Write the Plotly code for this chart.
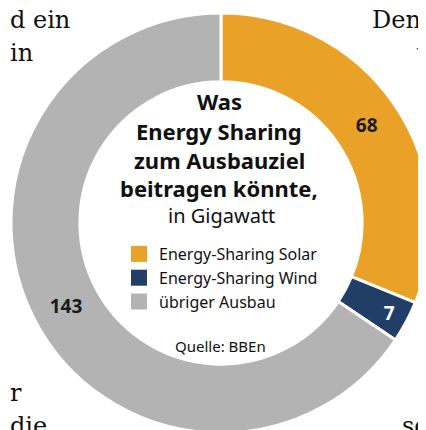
import plotly.graph_objects as go

# data
labels = ["Energy-Sharing Solar", "Energy-Sharing Wind", "übriger Ausbau"]
values = [68, 7, 143]
colors = ["#E9A227", "#213F66", "#B3B3B3"]
label_colors = ["#1a1a1a", "#ffffff", "#1a1a1a"]

title_lines = ["Was", "Energy Sharing", "zum Ausbauziel", "beitragen könnte,"]
subtitle = "in Gigawatt"
source = "Quelle: BBEn"

# fragments of the surrounding article text
bg_text = ["d ein", "in", "Den", "v", "r", "die", "sc"]
bg_pos = [(0, 12), (0, 45), (362, 12), (406, 45), (0, 385), (0, 418), (392, 418)]

W, H = 426, 430
SANS = "Noto Sans"
# the page puts the figure 8px in from the top left corner,
# so the positions below are given in figure pixels

fig = go.Figure()

fig.add_trace(go.Pie(
    labels=labels,
    values=values,
    sort=False,
    direction="clockwise",
    rotation=0,
    hole=0.672,
    domain=dict(x=[0.007, 0.993], y=[0.0116, 0.9884]),
    marker=dict(colors=colors, line=dict(color="white", width=3)),
    textinfo="value",
    textposition="inside",
    insidetextorientation="horizontal",
    insidetextfont=dict(family=SANS, size=19, color=label_colors, weight="bold"),
    showlegend=False,
    hoverinfo="label+value",
))

# legend entries with bigger squares
for name, c in zip(labels, colors):
    fig.add_trace(go.Scatter(
        x=[None], y=[None], mode="markers", name=name,
        marker=dict(symbol="square", size=16, color=c),
    ))

# title block, one line at a time to keep the tight leading
title_y = [93, 123, 152, 180]
for t, py in zip(title_lines, title_y):
    fig.add_annotation(
        text=f"<b>{t}</b>", x=211 / W, y=1 - py / H, xref="paper", yref="paper",
        xanchor="center", yanchor="middle", showarrow=False,
        font=dict(family=SANS, size=22, color="#111111"),
    )
fig.add_annotation(
    text=subtitle, x=213 / W, y=1 - 207 / H, xref="paper", yref="paper",
    xanchor="center", yanchor="middle", showarrow=False,
    font=dict(family=SANS, size=20, color="#111111"),
)
fig.add_annotation(
    text=source, x=212 / W, y=1 - 338 / H, xref="paper", yref="paper",
    xanchor="center", yanchor="middle", showarrow=False,
    font=dict(family=SANS, size=15, color="#111111"),
)

for t, (px, py) in zip(bg_text, bg_pos):
    fig.add_annotation(
        text=t, x=px / W, y=1 - py / H, xref="paper", yref="paper",
        xanchor="left", yanchor="middle", showarrow=False,
        font=dict(family="DejaVu Serif", size=24, color="#111111"),
    )

fig.update_layout(
    width=W, height=H,
    margin=dict(l=0, r=0, t=0, b=0, autoexpand=False),
    paper_bgcolor="white",
    plot_bgcolor="rgba(0,0,0,0)",
    xaxis=dict(visible=False),
    yaxis=dict(visible=False),
    showlegend=True,
    legend=dict(
        x=111 / W, y=1 - 229 / H, xanchor="left", yanchor="top",
        bgcolor="rgba(0,0,0,0)",
        font=dict(family=SANS, size=16, color="#111111"),
        tracegroupgap=0,
    ),
)

fig.write_html("out.html")
